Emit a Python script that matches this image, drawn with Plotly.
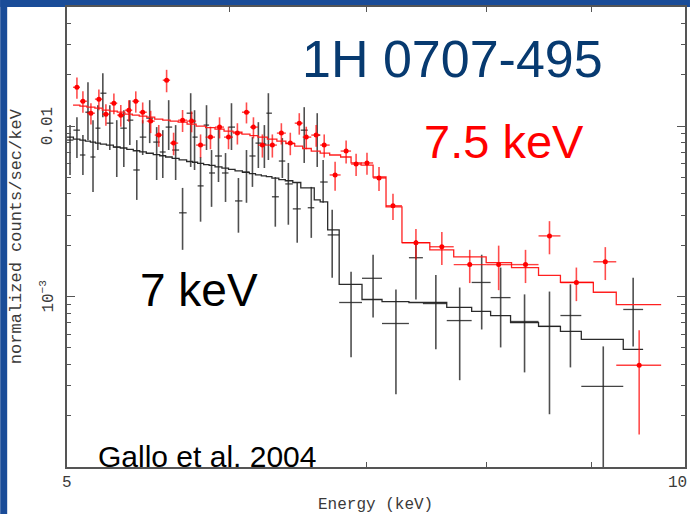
import numpy as np
import plotly.graph_objects as go

# ---------------------------------------------------------------------------
# Spectrum of 1H 0707-495, 5-10 keV (normalized counts/sec/keV)
# ---------------------------------------------------------------------------

# second observation (red): bin edges [keV], bin centres, flux, 1-sigma, model
red_edges = [5.034, 5.073, 5.113, 5.159, 5.202, 5.246, 5.290, 5.335, 5.380, 5.422,
             5.468, 5.517, 5.567, 5.613, 5.664, 5.721, 5.779, 5.841, 5.903, 5.963,
             6.023, 6.084, 6.139, 6.194, 6.260, 6.327, 6.391, 6.455, 6.513, 6.576,
             6.642, 6.713, 6.796, 6.876, 6.954, 7.048, 7.151, 7.280, 7.511, 7.715,
             8.001, 8.232, 8.485, 8.696, 9.023, 9.258, 9.736]
red_energy = [5.056, 5.090, 5.136, 5.182, 5.223, 5.270, 5.311, 5.359, 5.401, 5.443,
              5.492, 5.542, 5.591, 5.635, 5.692, 5.750, 5.808, 5.873, 5.933, 5.993,
              6.053, 6.115, 6.163, 6.225, 6.295, 6.359, 6.423, 6.488, 6.539, 6.612,
              6.672, 6.754, 6.838, 6.915, 7.000, 7.095, 7.207, 7.395, 7.613, 7.855,
              8.114, 8.362, 8.590, 8.853, 9.145, 9.499]
red_flux = [0.0169, 0.0140, 0.01191, 0.0144, 0.01175, 0.01363, 0.0116, 0.0124, 0.0140, 0.01207,
            0.0107, 0.00886, 0.0186, 0.00795, 0.01084, 0.0107, 0.00774, 0.00862, 0.00987, 0.00862,
            0.0091, 0.01207, 0.00987, 0.00774, 0.00774, 0.0091, 0.00795, 0.01041, 0.00862, 0.00886,
            0.00774, 0.00517, 0.00714, 0.00599, 0.00608, 0.00496, 0.00341, 0.00207, 0.00196, 0.00154,
            0.00154, 0.00154, 0.00227, 0.00121, 0.0016, 0.000395]
red_sigma = [0.0024, 0.0020, 0.0017, 0.0020, 0.0017, 0.0019, 0.0017, 0.0018, 0.0020, 0.0017,
             0.0016, 0.0013, 0.0028, 0.0012, 0.0016, 0.0015, 0.0012, 0.0013, 0.0014, 0.0013,
             0.0013, 0.0017, 0.0014, 0.0012, 0.0012, 0.0013, 0.0012, 0.0015, 0.0013, 0.0013,
             0.0012, 0.0010, 0.0011, 0.0009, 0.0009, 0.0008, 0.0006, 0.00042, 0.00043, 0.00034,
             0.00045, 0.00034, 0.0005, 0.00027, 0.00035, 0.00024]
red_model = [0.01327, 0.01309, 0.01292, 0.01274, 0.0124, 0.01224, 0.01207, 0.01175, 0.0116, 0.01144,
             0.01129, 0.01099, 0.01084, 0.0107, 0.01055, 0.01027, 0.0100, 0.0098, 0.0096, 0.00935,
             0.00922, 0.00898, 0.0088, 0.00862, 0.00839, 0.00817, 0.0079, 0.00764, 0.00739, 0.00714,
             0.00695, 0.00677, 0.00659, 0.00608, 0.00591, 0.00503, 0.00336, 0.00207, 0.00188, 0.00171,
             0.00158, 0.00148, 0.00133, 0.00121, 0.00106, 0.000898]

# first observation (black): bin edges, centres, flux with upper/lower bounds, model
black_edges = [4.99, 5.036, 5.073, 5.104, 5.133, 5.162, 5.191, 5.226, 5.267, 5.308,
               5.347, 5.386, 5.425, 5.465, 5.508, 5.548, 5.585, 5.626, 5.670, 5.718,
               5.756, 5.789, 5.828, 5.864, 5.903, 5.949, 5.993, 6.037, 6.087, 6.135,
               6.177, 6.218, 6.253, 6.292, 6.341, 6.387, 6.441, 6.499, 6.550, 6.598,
               6.642, 6.698, 6.785, 6.961, 7.119, 7.337, 7.453, 7.655, 7.872, 8.041,
               8.223, 8.485, 8.696, 8.902, 9.331, 9.541]
black_energy = [5.017, 5.056, 5.090, 5.119, 5.148, 5.176, 5.205, 5.246, 5.287, 5.329,
                5.365, 5.407, 5.443, 5.486, 5.529, 5.567, 5.604, 5.648, 5.692, 5.744,
                5.769, 5.808, 5.847, 5.880, 5.926, 5.973, 6.013, 6.060, 6.115, 6.156,
                6.197, 6.239, 6.267, 6.316, 6.366, 6.409, 6.473, 6.524, 6.576, 6.620,
                6.664, 6.732, 6.876, 7.048, 7.231, 7.395, 7.562, 7.767, 7.961, 8.132,
                8.353, 8.590, 8.794, 9.124, 9.435]
black_flux = [0.00828, 0.00947, 0.00677, 0.01207, 0.00659, 0.00973, 0.0156, 0.01041, 0.00754, 0.00973,
              0.01084, 0.00553, 0.00862, 0.01114, 0.00806, 0.00705, 0.00987, 0.00724, 0.0031, 0.01191,
              0.00862, 0.00446, 0.01014, 0.00531, 0.00668, 0.00531, 0.00987, 0.00364, 0.00538, 0.00668,
              0.00795, 0.00785, 0.01191, 0.00385, 0.00624, 0.00458, 0.00327, 0.00947, 0.00332, 0.00886,
              0.0047, 0.0023, 0.000923, 0.00128, 0.000695, 0.00169, 0.00091, 0.000723, 0.00121, 0.000986,
              0.000714, 0.000668, 0.000774, 0.000297, 0.00084]
black_hi = [0.01014, 0.01129, 0.00886, 0.0181, 0.01084, 0.01327, 0.0204, 0.01327, 0.01084, 0.0124,
            0.0142, 0.00828, 0.01084, 0.0142, 0.00987, 0.00947, 0.0142, 0.01014, 0.00434, 0.0156,
            0.0124, 0.00659, 0.01327, 0.00724, 0.00973, 0.00695, 0.01363, 0.00496, 0.00724, 0.00862,
            0.01055, 0.01014, 0.0156, 0.00503, 0.00851, 0.00608, 0.00464, 0.01292, 0.0044, 0.01191,
            0.00633, 0.00323, 0.0014, 0.00176, 0.0011, 0.00215, 0.00134, 0.00113, 0.00176, 0.00148,
            0.00103, 0.00107, 0.00118, 0.00051, 0.00129]
black_lo = [0.00517, 0.0065, 0.00517, 0.00828, 0.00411, 0.00724, 0.01129, 0.00724, 0.00503, 0.00576,
            0.00774, 0.00369, 0.00677, 0.00795, 0.00483, 0.00496, 0.00724, 0.00483, 0.00188, 0.00576,
            0.00553, 0.00275, 0.00724, 0.00336, 0.0047, 0.00359, 0.00724, 0.00237, 0.00355, 0.0044,
            0.00568, 0.00568, 0.00633, 0.00257, 0.00496, 0.00264, 0.00207, 0.00608, 0.00221, 0.00576,
            0.00355, 0.00129, 0.00044, 0.000754, 0.000267, 0.000961, 0.00049, 0.000323, 0.000641, 0.000503,
            0.000359, 0.000204, 0.000384, 0.00005, 0.00051]
black_model = [0.00862, 0.00839, 0.00828, 0.00817, 0.00806, 0.00795, 0.00785, 0.00774, 0.00754, 0.00744,
               0.00731, 0.00717, 0.00706, 0.00693, 0.0068, 0.0067, 0.00659, 0.00647, 0.00634, 0.0062,
               0.00614, 0.00605, 0.00595, 0.00588, 0.00577, 0.00567, 0.00557, 0.00546, 0.00535, 0.00527,
               0.00518, 0.0051, 0.00505, 0.00495, 0.00486, 0.00478, 0.00467, 0.00434, 0.00434, 0.00369,
               0.00359, 0.00246, 0.00118, 0.000961, 0.000935, 0.000923, 0.000923, 0.000863, 0.000818, 0.000774,
               0.000704, 0.000668, 0.000624, 0.000561, 0.00049]

# axis ticks
x_tick_vals = [5, 10]
x_tick_text = ["5", "10"]
x_minor_vals = [6, 7, 8, 9]
y_tick_vals = [1e-3, 1e-2]
y_tick_text = ["10<sup>\u22123</sup>", "0.01"]
y_minor_vals = [2e-4, 3e-4, 4e-4, 5e-4, 6e-4, 7e-4, 8e-4, 9e-4,
                2e-3, 3e-3, 4e-3, 5e-3, 6e-3, 7e-3, 8e-3, 9e-3,
                0.02, 0.03, 0.04]

X_RANGE = (5.0, 10.0)
Y_RANGE = (1e-4, 0.05)

SLIDE_BLUE = "#1a4c98"
AXIS_GREY = "#555555"
LABEL_GREY = "#3a3a3a"
MONO = "Liberation Mono, Courier New, monospace"
SANS = "Liberation Sans, Arial, sans-serif"


def step_line(edges, values):
    """x/y arrays for an 'hv' step through contiguous bins."""
    return list(edges), list(values) + [values[-1]]


def x_errors(edges, centres):
    e = np.asarray(edges, dtype=float)
    c = np.asarray(centres, dtype=float)
    return e[1:] - c, c - e[:-1]


fig = go.Figure()

# black spectrum: model then data
bx, by = step_line(black_edges, black_model)
fig.add_trace(go.Scatter(x=bx, y=by, mode="lines", line_shape="hv",
                         line=dict(color="#2b2b2b", width=1.3), hoverinfo="skip"))
bxp, bxm = x_errors(black_edges, black_energy)
bf = np.asarray(black_flux)
fig.add_trace(go.Scatter(
    x=black_energy, y=black_flux, mode="markers",
    marker=dict(size=2, color="rgba(0,0,0,0)"),
    error_x=dict(type="data", symmetric=False, array=bxp, arrayminus=bxm,
                 thickness=1.3, width=0, color="rgba(35,35,35,0.85)"),
    error_y=dict(type="data", symmetric=False,
                 array=np.asarray(black_hi) - bf, arrayminus=bf - np.asarray(black_lo),
                 thickness=1.6, width=0, color="rgba(35,35,35,0.8)"),
))

# red spectrum: model then data
rx, ry = step_line(red_edges, red_model)
fig.add_trace(go.Scatter(x=rx, y=ry, mode="lines", line_shape="hv",
                         line=dict(color="#ff2020", width=1.3), hoverinfo="skip"))
rxp, rxm = x_errors(red_edges, red_energy)
fig.add_trace(go.Scatter(
    x=red_energy, y=red_flux, mode="markers",
    marker=dict(size=5, color="#ff0000"),
    error_x=dict(type="data", symmetric=False, array=rxp, arrayminus=rxm,
                 thickness=1.4, width=0, color="rgba(255,0,0,0.75)"),
    error_y=dict(type="data", array=red_sigma,
                 thickness=1.6, width=0, color="rgba(255,0,0,0.7)"),
))

axis_common = dict(
    type="log", showline=True, linecolor=AXIS_GREY, linewidth=1.5,
    mirror="allticks", ticks="inside", ticklen=8, tickwidth=1.2, tickcolor=AXIS_GREY,
    showgrid=False, zeroline=False, showticklabels=False,
)

fig.update_xaxes(
    **axis_common,
    range=[np.log10(X_RANGE[0]), np.log10(X_RANGE[1])],
    tickmode="array", tickvals=x_tick_vals,
    minor=dict(tickmode="array", tickvals=x_minor_vals, ticks="inside",
               ticklen=5, tickcolor=AXIS_GREY, tickwidth=1.2),
)
fig.update_yaxes(
    **axis_common,
    range=[np.log10(Y_RANGE[0]), np.log10(Y_RANGE[1])],
    tickmode="array", tickvals=y_tick_vals,
    minor=dict(tickmode="array", tickvals=y_minor_vals, ticks="inside",
               ticklen=4, tickcolor=AXIS_GREY, tickwidth=1.2),
)

# slide background strips around the chart
L, R, T, B, W, H = 67, 5, 7, 47, 692, 514
pw, ph = W - L - R, H - T - B


def px_x(px):
    return (px - L) / pw


def px_y(py):
    return (H - B - py) / ph


shapes = [
    dict(type="rect", xref="paper", yref="paper", layer="below", line_width=0,
         fillcolor=SLIDE_BLUE, x0=px_x(0), x1=px_x(7), y0=px_y(H), y1=px_y(0)),
    dict(type="rect", xref="paper", yref="paper", layer="below", line_width=0,
         fillcolor=SLIDE_BLUE, x0=px_x(0), x1=px_x(W), y0=px_y(T), y1=px_y(0)),
]

tick_font = dict(family=MONO, size=16, color=LABEL_GREY)
annotations = []
# tick labels, placed at the tick values (log axes take log10 positions);
# the last energy label is right-aligned so it stays inside the page
for i, (v, t) in enumerate(zip(x_tick_vals, x_tick_text)):
    last = i == len(x_tick_vals) - 1
    annotations.append(dict(text=t, xref="paper" if last else "x",
                            x=px_x(W - 1) if last else np.log10(v),
                            xanchor="right" if last else "center",
                            yref="paper", y=px_y(483), font=tick_font))
for v, t in zip(y_tick_vals, y_tick_text):
    annotations.append(dict(text=t, xref="paper", x=px_x(48), yref="y", y=np.log10(v),
                            textangle=-90, font=tick_font))

annotations += [
    dict(text="1H 0707-495", xref="paper", x=px_x(454), yref="paper", y=px_y(59),
         font=dict(family=SANS, size=52, color="#073a70")),
    dict(text="7.5 keV", xref="paper", x=px_x(505), yref="paper", y=px_y(141),
         font=dict(family=SANS, size=47, color="#ff0000")),
    dict(text="7 keV", xref="paper", x=px_x(199), yref="paper", y=px_y(290),
         font=dict(family=SANS, size=46, color="#000000")),
    dict(text="Gallo et al. 2004", xref="paper", x=px_x(207), yref="paper", y=px_y(456),
         font=dict(family=SANS, size=30, color="#000000")),
    dict(text="normalized counts/sec/keV", xref="paper", x=px_x(16), yref="paper", y=px_y(236),
         textangle=-90, font=dict(family=MONO, size=17, color=LABEL_GREY)),
    dict(text="Energy (keV)", xref="paper", x=px_x(376), yref="paper", y=px_y(505),
         font=dict(family=MONO, size=16, color=LABEL_GREY)),
]
for a in annotations:
    a.setdefault("xanchor", "center")
    a.update(showarrow=False, yanchor="middle")

fig.update_layout(
    width=W, height=H,
    margin=dict(l=L, r=R, t=T, b=B, pad=0),
    paper_bgcolor="white", plot_bgcolor="white",
    showlegend=False,
    shapes=shapes, annotations=annotations,
)

fig.write_html("out.html")
